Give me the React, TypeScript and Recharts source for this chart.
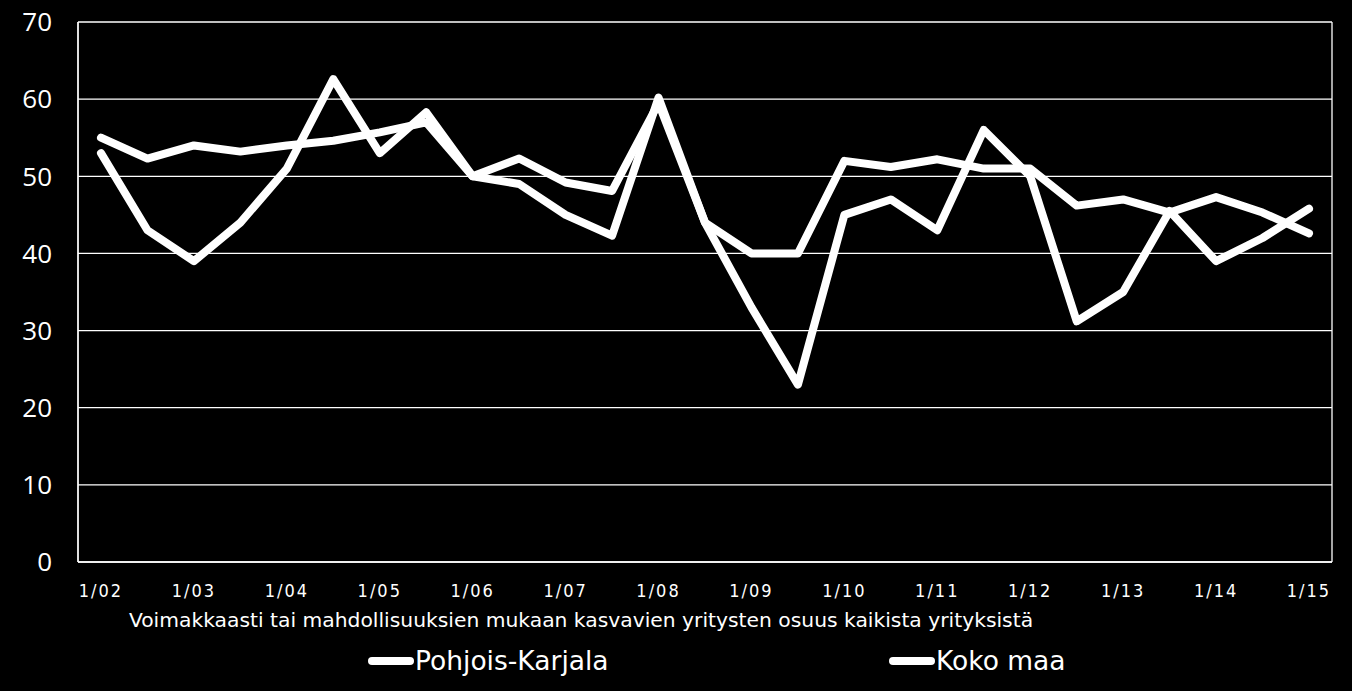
import {LineChart, Line, XAxis, YAxis, CartesianGrid, Legend} from 'recharts';

const periods = [
    '1/02', '7/02', '1/03', '7/03', '1/04', '7/04', '1/05', '7/05', '1/06', '7/06',
    '1/07', '7/07', '1/08', '7/08', '1/09', '7/09', '1/10', '7/10', '1/11', '7/11',
    '1/12', '7/12', '1/13', '7/13', '1/14', '7/14', '1/15',
];
const pohjoisKarjala = [
    53, 43, 39, 44, 51, 62.6, 53, 58.3, 50, 49,
    45, 42.3, 60.2, 44, 33, 23, 45, 47, 43, 56,
    50, 31.2, 35, 45.5, 39, 42, 45.8,
];
const kokoMaa = [
    55, 52.3, 54, 53.2, 54, 54.6, 55.7, 57, 50, 52.3,
    49.2, 48.1, 59.5, 44, 40, 40, 52, 51.2, 52.2, 51,
    51, 46.2, 47, 45.3, 47.3, 45.3, 42.6,
];
const seriesNames = ['Pohjois-Karjala', 'Koko maa'];
const yTicks = [0, 10, 20, 30, 40, 50, 60, 70];
const caption = 'Voimakkaasti tai mahdollisuuksien mukaan kasvavien yritysten osuus kaikista yrityksistä';

const data = periods.map((p, i) => ({
    period: p,
    pk: pohjoisKarjala[i],
    kokoMaa: kokoMaa[i],
}));

const condensed = '"DejaVu Sans Condensed", "DejaVu Sans", sans-serif';
const wide = '"DejaVu Sans", sans-serif';
const legendLeft = [367, 888];

function renderLegend(props: any) {
    const items = [...(props.payload || [])].sort(
        (a: any, b: any) => seriesNames.indexOf(a.value) - seriesNames.indexOf(b.value));
    return (
        <div style={{position: 'relative', height: 50, width: 1352}}>
            {items.map((item: any, i: number) => (
                <div key={item.value} style={{
                    position: 'absolute', left: legendLeft[i], top: 4, display: 'flex', alignItems: 'center',
                    color: '#fff', fontFamily: wide, fontSize: 26.5,
                }}>
                    <svg width={48} height={12}>
                        <line x1={5} y1={6} x2={43} y2={6} stroke="#fff" strokeWidth={8} strokeLinecap="round"/>
                    </svg>
                    <span>{item.value}</span>
                </div>
            ))}
        </div>
    );
}

function CaptionLabel() {
    return (
        <text x={581} y={627} fill="#fff" textAnchor="middle" fontFamily={wide} fontSize={20.3}>
            {caption}
        </text>
    );
}

export default function App() {
    return (
        <div style={{position: 'absolute', left: 0, top: 0, width: 1352, height: 691, background: '#000'}}>
            <LineChart width={1352} height={691} data={data} margin={{top: 22, right: 20, left: 18, bottom: 0}}>
                <CartesianGrid stroke="#fff" strokeWidth={1.3}
                               verticalCoordinatesGenerator={({offset}: any) => [offset.left, offset.left + offset.width]}/>
                <XAxis dataKey="period" interval={1} padding={{left: 23, right: 23}} height={79}
                       axisLine={{stroke: '#fff', strokeWidth: 1.3}} tickLine={false} tickMargin={16}
                       tick={{fill: '#fff', fontSize: 18, fontFamily: condensed, letterSpacing: 2}}
                       label={<CaptionLabel/>}/>
                <YAxis domain={[0, 70]} ticks={yTicks} width={60} tickLine={false} tickMargin={20}
                       axisLine={{stroke: '#fff', strokeWidth: 1.3}}
                       tick={{fill: '#fff', fontSize: 26, fontFamily: '"Open Sans", sans-serif'}}/>
                <Legend verticalAlign="bottom" content={renderLegend} wrapperStyle={{left: 0, width: 1352}}/>
                <Line type="linear" dataKey="pk" name={seriesNames[0]} stroke="#fff" strokeWidth={8}
                      strokeLinejoin="round" strokeLinecap="round" dot={false} isAnimationActive={false}/>
                <Line type="linear" dataKey="kokoMaa" name={seriesNames[1]} stroke="#fff" strokeWidth={8}
                      strokeLinejoin="round" strokeLinecap="round" dot={false} isAnimationActive={false}/>
            </LineChart>
        </div>
    );
}
